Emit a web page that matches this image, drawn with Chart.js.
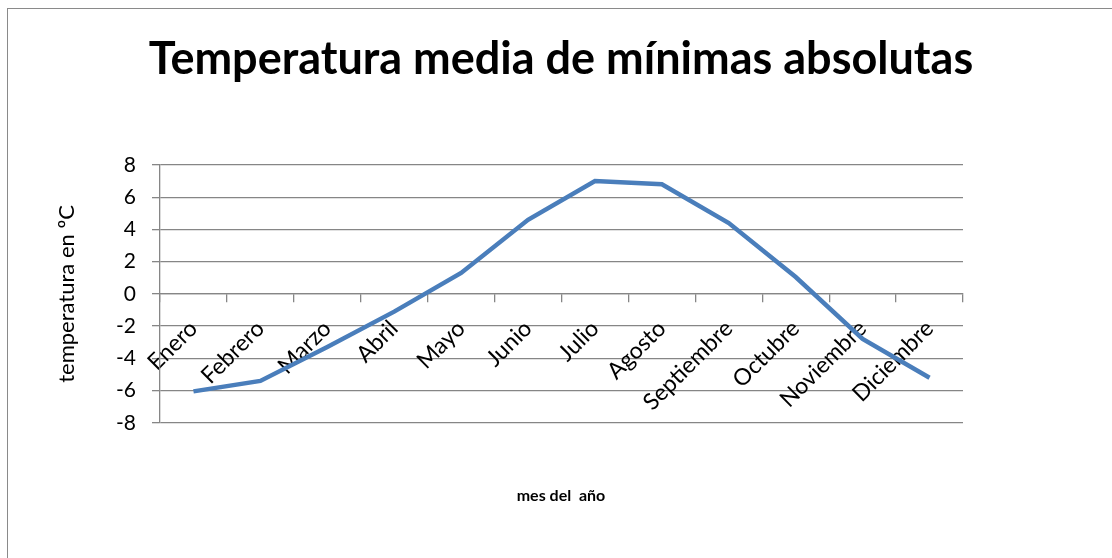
<!DOCTYPE html>
<html>
<head>
<meta charset="utf-8">
<script src="https://cdn.jsdelivr.net/npm/chart.js@4"></script>
<style>
html, body { margin: 0; padding: 0; background: #fff; overflow: hidden; }
#marco { position: absolute; left: 7px; top: 8px; width: 1300px; height: 700px;
         border-left: 1px solid #8a8a8a; border-top: 1px solid #8a8a8a; }
canvas { position: absolute; left: 0; top: 0; }
</style>
</head>
<body>
<div id="marco"></div>
<canvas id="grafico" width="1112" height="558"></canvas>
<script>
// Datos
const meses = ["Enero", "Febrero", "Marzo", "Abril", "Mayo", "Junio", "Julio",
               "Agosto", "Septiembre", "Octubre", "Noviembre", "Diciembre"];
const temperaturas = [-6.05, -5.4, -3.3, -1.1, 1.3, 4.6, 7.0, 6.8, 4.4, 1.05, -2.8, -5.2];
const marcasY = [-8, -6, -4, -2, 0, 2, 4, 6, 8];

const gris = "#868686";
const fuente = "Lato, 'Open Sans', sans-serif";

const ctx = document.getElementById("grafico").getContext("2d");
new Chart(ctx, {
    type: "line",
    data: {
        labels: meses,
        datasets: [{
            label: "Temperatura",
            data: temperaturas,
            borderColor: "#4A7EBB",
            borderWidth: 4.5,
            pointRadius: 0,
            tension: 0,
            fill: false
        }]
    },
    options: {
        responsive: false,
        animation: false,
        layout: { padding: { left: 10, right: 0, top: 10, bottom: 53 } },
        plugins: {
            legend: { display: false },
            tooltip: { enabled: false },
            title: {
                display: true,
                text: "Temperatura media de mínimas absolutas",
                color: "#000",
                font: { family: fuente, size: 45, weight: "bold" },
                padding: { top: 22, bottom: 79 }
            },
            subtitle: {
                display: true,
                position: "bottom",
                text: "mes del  año",
                color: "#000",
                font: { family: fuente, size: 16, weight: "bold" },
                padding: { top: 63, bottom: 0 }
            }
        },
        scales: {
            x: {
                type: "category",
                position: { y: 0 },
                offset: true,
                grid: { offset: true, drawOnChartArea: false, drawTicks: true,
                        tickLength: 8, color: gris, lineWidth: 1.3 },
                border: { display: true, color: gris, width: 1.3 },
                ticks: { minRotation: 45, maxRotation: 45, autoSkip: false, padding: 13,
                         color: "#000", font: { family: fuente, size: 23 } },
                afterFit: function(s) { s.height = 0; }
            },
            y: {
                min: -8,
                max: 8,
                afterBuildTicks: function(s) { s.ticks = marcasY.map(v => ({ value: v })); },
                grid: { color: gris, lineWidth: 1.3, tickLength: 8 },
                border: { display: true, color: gris, width: 1.3 },
                ticks: { padding: 16, color: "#000", font: { family: fuente, size: 21 } },
                title: {
                    display: true,
                    text: "temperatura en ºC",
                    color: "#000",
                    font: { family: fuente, size: 22 },
                    padding: { top: 44, bottom: 0 }
                },
                afterFit: function(s) { s.width = 150; }
            },
            // eje vacío para dejar el margen derecho
            derecha: {
                type: "linear",
                position: "right",
                grid: { display: false },
                border: { display: false },
                ticks: { display: false },
                afterFit: function(s) { s.width = 149; }
            }
        }
    }
});
</script>
</body>
</html>
